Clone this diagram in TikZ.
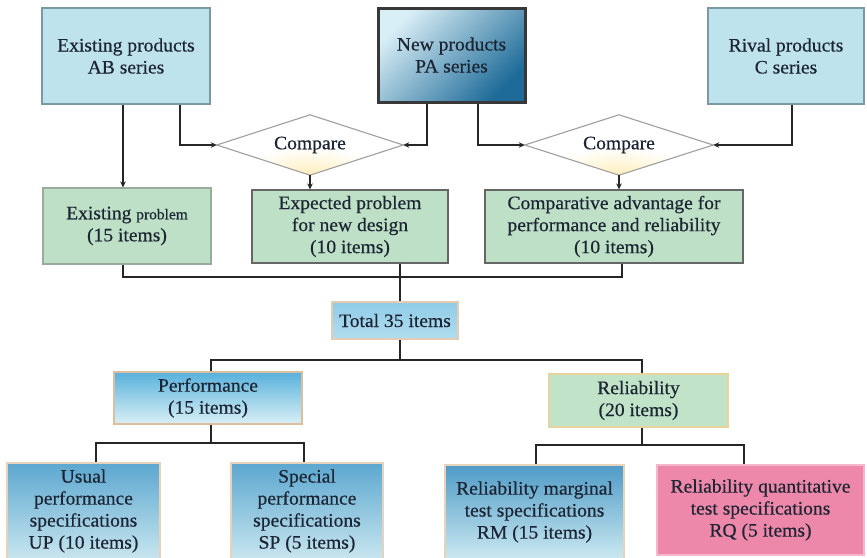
\documentclass[tikz,border=0pt]{standalone}
\usepackage{fontspec}
\setmainfont{Liberation Serif}[FakeStretch=1.03, FakeBold=0.5]
\usetikzlibrary{arrows.meta,shapes.geometric}

\definecolor{ink}{HTML}{1C2533}
\definecolor{wire}{HTML}{262626}
\definecolor{skyfill}{HTML}{BEE3EC}
\definecolor{skyedge}{HTML}{7C98A4}
\definecolor{leaf}{HTML}{BEE0C7}
\definecolor{leafedge}{HTML}{7E9686}
\definecolor{tan}{HTML}{DDBF9F}
\definecolor{straw}{HTML}{E6D49C}
\definecolor{rose}{HTML}{EE88AA}
\definecolor{roseedge}{HTML}{F4B6C8}
\definecolor{paleblue}{HTML}{D9EFF6}
\definecolor{deepblue}{HTML}{1E6A98}
\definecolor{totaltop}{HTML}{8FCBE6}
\definecolor{totalbot}{HTML}{B2DEF0}
\definecolor{perftop}{HTML}{58B1DC}
\definecolor{perfbot}{HTML}{DAF0F6}
\definecolor{spectop}{HTML}{5CA7D0}
\definecolor{specmid}{HTML}{98CDE2}
\definecolor{specbot}{HTML}{C8E6EF}
\definecolor{rmtop}{HTML}{4F9BC7}
\definecolor{rmmid}{HTML}{9FD0E3}
\definecolor{rmbot}{HTML}{CBE9F1}
\definecolor{relfill}{HTML}{C1E3C8}
\definecolor{glow}{HTML}{FFEDB8}

\newcommand\lbl{\fontsize{19}{22}\selectfont}

\tikzset{
  box/.style={rectangle, inner sep=0pt, align=center, font=\lbl, text=ink, line width=1.1pt},
  skybox/.style={box, draw=skyedge, fill=skyfill},
  leafbox/.style={box, draw=leafedge, fill=leaf},
  specbox/.style={box, draw=tan!70, top color=spectop, middle color=specmid, bottom color=specbot},
  choice/.style={diamond, inner sep=0pt, font=\lbl, text=ink, fill=white},
  edge/.style={draw=gray!75, line width=1.1pt},
  wire/.style={draw=wire, line width=1.8pt},
  arr/.style={wire, -{Stealth[length=6pt,width=5.5pt]}},
}

\begin{document}
\begin{tikzpicture}[x=1pt, y=-1pt]
\useasboundingbox[fill=white] (0,0) rectangle (867,557);

% product sources
\node[skybox, minimum width=168pt, minimum height=96pt] (A) at (126,56) {Existing products\\AB series};
\node[box, draw=black!78, line width=3pt, minimum width=147pt, minimum height=94pt,
      top color=paleblue, bottom color=deepblue, shading angle=45] (N) at (451.5,55) {New products\\PA series};
\node[skybox, minimum width=156pt, minimum height=96pt] (C) at (786,56) {Rival products\\C series};

% comparisons: white diamonds with a soft yellow glow low inside
\node[choice, minimum width=186pt, minimum height=60pt] (D1) at (310,145) {};
\node[choice, minimum width=188pt, minimum height=60pt] (D2) at (619,145) {};
\begin{scope}
  \clip (D1.north) -- (D1.east) -- (D1.south) -- (D1.west) -- cycle;
  \shade[inner color=glow, outer color=white] ([yshift=-2pt]D1.south) ellipse (75pt and 30pt);
\end{scope}
\begin{scope}
  \clip (D2.north) -- (D2.east) -- (D2.south) -- (D2.west) -- cycle;
  \shade[inner color=glow, outer color=white] ([yshift=-2pt]D2.south) ellipse (75pt and 30pt);
\end{scope}
\draw[edge] (D1.north) -- (D1.east) -- (D1.south) -- (D1.west) -- cycle;
\draw[edge] (D2.north) -- (D2.east) -- (D2.south) -- (D2.west) -- cycle;
\node[font=\lbl, text=ink, inner sep=0pt] (D1t) at (D1.center) {Compare};
\node[font=\lbl, text=ink, inner sep=0pt] (D2t) at (D2.center) {Compare};

% problem lists
\node[leafbox, draw=leafedge!80, minimum width=168pt, minimum height=76pt] (EP) at (127,226)
  {Existing {\fontsize{15}{22}\selectfont problem}\\(15 items)};
\node[leafbox, draw=black!60, minimum width=196pt, minimum height=73pt] (XP) at (350,226.5)
  {Expected problem\\for new design\\(10 items)};
\node[leafbox, draw=black!60, minimum width=258pt, minimum height=73pt] (CA) at (614,226.5)
  {Comparative advantage for\\performance and reliability\\(10 items)};

% totals
\node[box, draw=tan!80, top color=totaltop, bottom color=totalbot,
      minimum width=126pt, minimum height=37pt] (T) at (395,320.5) {Total 35 items};
\node[box, draw=tan, top color=perftop, bottom color=perfbot,
      minimum width=188pt, minimum height=52pt] (P) at (208,398) {Performance\\(15 items)};
\node[box, draw=straw, fill=relfill, minimum width=179pt, minimum height=53pt] (R) at (638.5,400.5)
  {Reliability\\(20 items)};

% specifications
\node[specbox, minimum width=153pt, minimum height=96pt] (UP) at (83.5,511)
  {Usual\\performance\\specifications\\UP (10 items)};
\node[specbox, minimum width=152pt, minimum height=96pt] (SP) at (307,511)
  {Special\\performance\\specifications\\SP (5 items)};
\node[box, draw=tan!70, top color=rmtop, middle color=rmmid, bottom color=rmbot,
      minimum width=179pt, minimum height=94pt] (RM) at (534.5,512)
  {Reliability marginal\\test specifications\\RM (15 items)};
\node[box, draw=roseedge, fill=rose, minimum width=207pt, minimum height=90pt] (RQ) at (760.5,510)
  {Reliability quantitative\\test specifications\\RQ (5 items)};

% junctions of the tree lines
\coordinate (j1) at (400,277);
\coordinate (j2) at (400,360);
\coordinate (j3) at (211,443);
\coordinate (j4) at (642,445);

% feeds into the comparisons
\draw[arr] ([xshift=-3pt]A.south) -- ([xshift=-3pt]A.south |- EP.north);
\draw[arr] ([xshift=54pt]A.south) |- (D1.west);
\draw[arr] ([xshift=-24.5pt]N.south) |- (D1.east);
\draw[arr] ([xshift=26.5pt]N.south) |- (D2.west);
\draw[arr] ([xshift=6pt]C.south) |- (D2.east);
\draw[arr] (D1.south) -- (D1.south |- XP.north);
\draw[arr] (D2.south) -- (D2.south |- CA.north);

% collecting the items
\draw[wire] ([xshift=-4pt]EP.south) |- (j1);
\draw[wire] ([xshift=8pt]CA.south) |- (j1);
\draw[wire] (j1 |- XP.south) -- (j1 |- T.north);

% splitting the total
\draw[wire] (j1 |- T.south) -- (j2);
\draw[wire] ([xshift=3pt]P.north) |- (j2) -| ([xshift=3.5pt]R.north);
\draw[wire] ([xshift=3pt]P.south) -- (j3);
\draw[wire] ([xshift=12.5pt]UP.north) |- (j3) -| ([xshift=-3pt]SP.north);
\draw[wire] ([xshift=3.5pt]R.south) -- (j4);
\draw[wire] ([xshift=1.5pt]RM.north) |- (j4) -| ([xshift=-16.5pt]RQ.north);
\end{tikzpicture}
\end{document}
